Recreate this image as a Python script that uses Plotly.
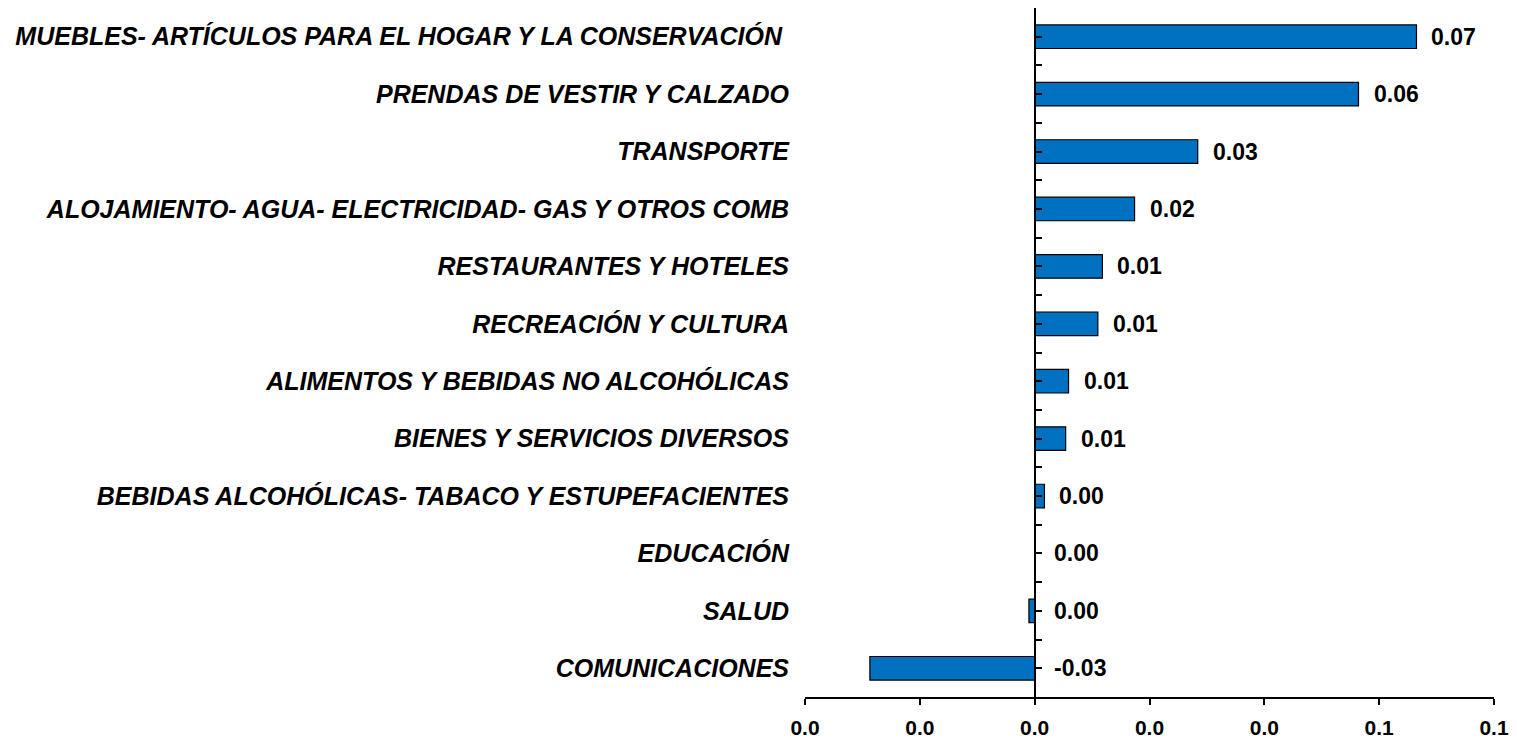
import plotly.graph_objects as go

categories = [
    "MUEBLES- ARTÍCULOS PARA EL HOGAR Y LA CONSERVACIÓN ",
    "PRENDAS DE VESTIR Y CALZADO",
    "TRANSPORTE",
    "ALOJAMIENTO- AGUA- ELECTRICIDAD- GAS Y OTROS COMB",
    "RESTAURANTES Y HOTELES",
    "RECREACIÓN Y CULTURA",
    "ALIMENTOS Y BEBIDAS NO ALCOHÓLICAS",
    "BIENES Y SERVICIOS DIVERSOS",
    "BEBIDAS ALCOHÓLICAS- TABACO Y ESTUPEFACIENTES",
    "EDUCACIÓN",
    "SALUD",
    "COMUNICACIONES",
]
values = [0.0665, 0.0564, 0.0284, 0.0174, 0.0118, 0.0110, 0.0059, 0.0054, 0.0017, 0.0, -0.0010, -0.0287]
value_labels = ["0.07", "0.06", "0.03", "0.02", "0.01", "0.01", "0.01", "0.01", "0.00", "0.00", "0.00", "-0.03"]
x_tickvals = [-0.04, -0.02, 0.0, 0.02, 0.04, 0.06, 0.08]
x_ticktext = ["0.0", "0.0", "0.0", "0.0", "0.0", "0.1", "0.1"]

FONT = "Liberation Sans, Arial, sans-serif"
n = len(categories)
xmin, xmax = x_tickvals[0], x_tickvals[-1]

fig = go.Figure()
fig.add_trace(go.Bar(
    x=values, y=categories, orientation="h", width=0.41,
    marker=dict(color="#0070C0", line=dict(color="black", width=1.2)),
    hoverinfo="x+y",
))
# invisible companion trace so the zero-position axis (yaxis2) is rendered
fig.add_trace(go.Scatter(
    x=values, y=list(range(n)), yaxis="y2", mode="markers",
    marker=dict(opacity=0), hoverinfo="skip", showlegend=False,
))

for cat, v, lab in zip(categories, values, value_labels):
    fig.add_annotation(
        x=max(v, 0), y=cat, text=lab, showarrow=False,
        xanchor="left", yanchor="middle", xshift=13 if v > 0 else 17,
        font=dict(family=FONT, size=23, color="black", weight="bold"),
    )

half_ticks = [i * 0.5 - 0.5 for i in range(2 * n + 1)]

fig.update_layout(
    width=1517, height=739,
    margin=dict(l=805, r=23, t=8, b=42, autoexpand=False),
    paper_bgcolor="white", plot_bgcolor="white",
    showlegend=False,
    xaxis=dict(
        range=[xmin, xmax], tickvals=x_tickvals, ticktext=x_ticktext,
        showgrid=False, zeroline=False, showline=True, linecolor="black", linewidth=1.5,
        ticks="outside", ticklen=6, tickwidth=1.5, tickcolor="black",
        ticklabelstandoff=5, automargin=False,
        tickfont=dict(family=FONT, size=21, color="black", weight="bold"),
    ),
    yaxis=dict(
        type="category", categoryorder="array", categoryarray=categories,
        range=[n - 0.5, -0.5], showgrid=False, zeroline=False, showline=False,
        ticks="", ticklabelstandoff=15, automargin=False,
        tickfont=dict(family=FONT, size=25, color="black", weight="bold", style="italic"),
    ),
    yaxis2=dict(
        overlaying="y", anchor="free", position=(0 - xmin) / (xmax - xmin), side="left",
        range=[n - 0.5, -0.5], showgrid=False, zeroline=False, automargin=False,
        showline=True, linecolor="black", linewidth=2,
        tickmode="array", tickvals=half_ticks, ticks="inside", ticklen=6, tickwidth=1.5,
        tickcolor="black", showticklabels=False,
    ),
)

fig.write_html("out.html", config={"displayModeBar": False},
               post_script="document.body.style.margin='0';")
